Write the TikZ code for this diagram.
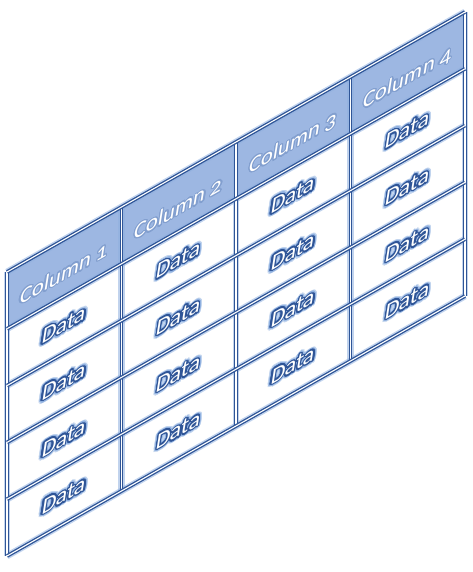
\documentclass[tikz,border=0pt]{standalone}
\usepackage{fontspec}
\setmainfont{Carlito}
\newfontfamily\headfont[Numbers=OldStyle]{Carlito}
\usetikzlibrary{positioning,calc}
\definecolor{headblue}{RGB}{157,183,226}
\definecolor{lineblue}{RGB}{47,85,151}
\definecolor{glowblue}{RGB}{143,176,224}
\newcommand\halo[3]{% colour, radius, text
  \foreach \a in {0,20,...,340}{%
    \pgfmathsetlengthmacro\dx{#2*cos(\a)}%
    \pgfmathsetlengthmacro\dy{#2*sin(\a)}%
    \rlap{\kern\dx\raisebox{\dy}{\color{#1}#3}}}}
\newcommand\glowtext[1]{\halo{glowblue!55}{2.6pt}{#1}\halo{glowblue}{1.8pt}{#1}%
  \halo{lineblue}{1pt}{#1}{\color{white}#1}}
\newcommand\softtext[1]{\halo{lineblue!25!headblue}{0.9pt}{#1}{\color{white}#1}}
\tikzset{cell text/.style={cm={1,0.568,0.16,1,(0,0)}, transform shape, inner sep=0pt,
    font=\fontsize{17.5}{20}\selectfont}, }
\tikzset{head text/.style={cell text, font=\headfont\fontsize{17}{20}\selectfont}, }
\tikzset{grid line/.style={draw=lineblue, line width=1pt, double=white, double distance=0.8pt}}
\tikzset{grid glow/.style={draw=glowblue, line width=5pt, opacity=0.55}}

\begin{document}
\begin{tikzpicture}[x=0.75pt,y=0.75pt]
\useasboundingbox (0,0) rectangle (472,572);
% corners of the slanted grid
\foreach \i in {0,...,4}
  \foreach \j in {0,...,5}
    \coordinate (p\i\j) at ({7+114.5*\i},{300+65*\i-56.8*\j});
% cell centres
\foreach \i in {0,...,3}
  \foreach \j in {0,...,4}
    \coordinate (m\i\j) at ({7+114.5*(\i+.5)},{300+65*(\i+.5)-56.8*(\j+.5)});
%
\fill[white] (p00) -- (p40) -- (p45) -- (p05) -- cycle;
\fill[headblue] (p00) -- (p40) -- (p41) -- (p01) -- cycle;
\foreach \i in {0,...,4} \draw[grid glow] (p\i0) -- (p\i5);
\foreach \j in {0,...,5} \draw[grid glow] (p0\j) -- (p4\j);
\foreach \i in {0,...,4} \draw[grid line] (p\i0) -- (p\i5);
\foreach \j in {0,...,5} \draw[grid line] (p0\j) -- (p4\j);
%
\foreach \i/\n in {0/1,1/2,2/3,3/4}
  \node[head text] (h\n) at ($(m\i0)+(0,-5)$) {\softtext{Column \n}};
\foreach \i in {0,...,3}
  \foreach \j in {1,...,4}
    \node[cell text] (d\i\j) at (m\i\j) {\glowtext{Data}};
\end{tikzpicture}
\end{document}
